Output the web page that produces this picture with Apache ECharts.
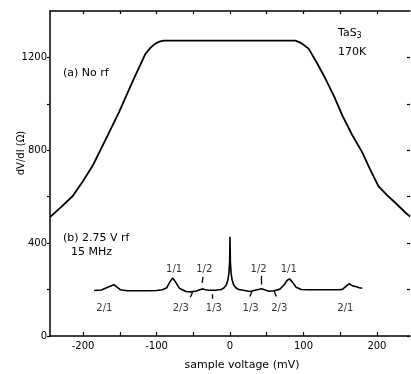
<!DOCTYPE html>
<html><head><meta charset="utf-8">
<script src="https://cdn.jsdelivr.net/npm/echarts@6/dist/echarts.min.js"></script>
<style>html,body{margin:0;padding:0;background:#fff}#c{width:411px;height:374px}</style>
</head><body><div id="c"></div>
<script>
// curve (a): no rf
const aX = [-245,-230,-214,-200,-187,-169,-151,-133,-115,-108,-103,-99,-95,-90,0,89,95,101,107,118,130,142,153,166,180,191,202,214,225,239,245];
const aY = [512,555,603,668,733,848,964,1094,1216,1242,1256,1264,1269,1272,1272,1272,1265,1252,1238,1178,1108,1030,949,868,791,716,646,606,574,531,515];
// curve (b): 2.75 V rf, 15 MHz
const bX = [-185,-175,-164,-158,-149,-140,-125,-110,-100,-92,-86,-82,-78,-74,-69,-60,-53,-46,-40,-37,-34,-28,-20,-12,-8,-5,-3,-1.5,-0.5,0,0.5,1.5,3,5,8,12,20,27,34,40,43,47,53,60,68,74,78,81,85,90,97,107,120,135,148,153,157,162,167,171,176,180];
const bY = [196,198,213,221,199,195,195,195,196,199,208,232,250,232,206,192,190,194,200,203,199,197,197,200,208,220,240,270,320,427,320,270,240,220,208,200,196,192,197,201,204,199,193,195,202,222,240,246,232,210,200,199,199,199,199,201,212,225,216,213,208,206];
// fraction labels
const fracText = ['2/1','2/3','1/3','1/3','2/3','2/1','1/1','1/2','1/2','1/1'];
const fracX = [-171,-67,-22,28,67,157,-76,-35,39,80];
const fracY = [121,121,121,121,121,121,289,289,289,289];
// small pointer segments [x1,y1,x2,y2]
const pointers = [[-36.7,255,-38,229],[-51,187,-54,167],[-24,180,-24,160],[30,192,27,170],[43,260,43,222],[60,195,63,170]];
// axis ticks
const xTicks = [-200,-150,-100,-50,0,50,100,150,200];
const xLabels = [-200,-100,0,100,200];
const yTicks = [0,200,400,600,800,1000,1200];
const yLabels = [0,400,800,1200];

const FONT = 'DejaVu Sans';
const chart = echarts.init(document.getElementById('c'));
const zip = (xs, ys) => xs.map((x, i) => [x, ys[i]]);
const axisLine = {show: true, onZero: false, lineStyle: {color: '#000', width: 1.5}};
chart.setOption({
  animation: false,
  backgroundColor: '#fff',
  grid: {left: 50, right: 1, top: 11, bottom: 38},
  xAxis: [{
    type: 'value', min: -245, max: 245,
    axisLine: axisLine,
    axisTick: {inside: true, length: 4, customValues: xTicks, lineStyle: {color: '#000', width: 1.2}},
    axisLabel: {customValues: xLabels, color: '#000', fontSize: 10, fontFamily: FONT, margin: 5, formatter: v => String(v)},
    splitLine: {show: false}
  }, {
    type: 'value', position: 'top', min: -245, max: 245,
    axisLine: axisLine,
    axisTick: {inside: true, length: 3, customValues: xTicks, lineStyle: {color: '#000', width: 1.2}},
    axisLabel: {show: false}, splitLine: {show: false}
  }],
  yAxis: [{
    type: 'value', min: 0, max: 1400,
    axisLine: axisLine,
    axisTick: {show: true, length: 3, customValues: yTicks, lineStyle: {color: '#000', width: 1.2}},
    axisLabel: {customValues: yLabels, color: '#000', fontSize: 10, fontFamily: FONT, margin: 3, formatter: v => String(v)},
    splitLine: {show: false}
  }, {
    type: 'value', position: 'right', min: 0, max: 1400,
    axisLine: {show: false, onZero: false},
    axisTick: {show: true, inside: true, length: 3, customValues: yTicks, lineStyle: {color: '#000', width: 1.2}},
    axisLabel: {show: false}, splitLine: {show: false}
  }],
  series: [{
    type: 'line', data: zip(aX, aY), showSymbol: false,
    lineStyle: {color: '#000', width: 1.8}
  }, {
    type: 'line', data: zip(bX, bY), showSymbol: false,
    lineStyle: {color: '#000', width: 1.6}
  }, {
    type: 'scatter', symbolSize: 0,
    data: fracText.map((t, i) => ({name: t, value: [fracX[i], fracY[i]]})),
    label: {show: true, position: 'inside', formatter: p => p.name, color: '#000', fontSize: 10, fontFamily: FONT}
  }, {
    type: 'lines', coordinateSystem: 'cartesian2d', polyline: false,
    lineStyle: {color: '#000', width: 1.3, opacity: 1},
    data: pointers.map(p => ({coords: [[p[0], p[1]], [p[2], p[3]]]}))
  }],
  graphic: [
    {type: 'text', x: 63, y: 73, style: {text: '(a) No rf', font: '11px "DejaVu Sans"', fill: '#000', verticalAlign: 'middle'}},
    {type: 'text', x: 63, y: 238, style: {text: '(b) 2.75 V rf', font: '11px "DejaVu Sans"', fill: '#000', verticalAlign: 'middle'}},
    {type: 'text', x: 71, y: 252, style: {text: '15 MHz', font: '11px "DejaVu Sans"', fill: '#000', verticalAlign: 'middle'}},
    {type: 'text', x: 338, y: 33, style: {text: '{a|TaS}{s|3}', fill: '#000', verticalAlign: 'middle',
      rich: {a: {fontSize: 11, fontFamily: FONT, fill: '#000'}, s: {fontSize: 8, fontFamily: FONT, fill: '#000', verticalAlign: 'bottom', padding: [6, 0, 0, 0]}}}},
    {type: 'text', x: 338, y: 52, style: {text: '170K', font: '11px "DejaVu Sans"', fill: '#000', verticalAlign: 'middle'}},
    {type: 'text', x: 21, y: 153, rotation: Math.PI / 2, style: {text: 'dV/dI (Ω)', font: '10px "DejaVu Sans"', fill: '#000', align: 'center', verticalAlign: 'middle'}},
    {type: 'text', x: 242, y: 365, style: {text: 'sample voltage (mV)', font: '11px "DejaVu Sans"', fill: '#000', align: 'center', verticalAlign: 'middle'}}
  ]
});
</script></body></html>
